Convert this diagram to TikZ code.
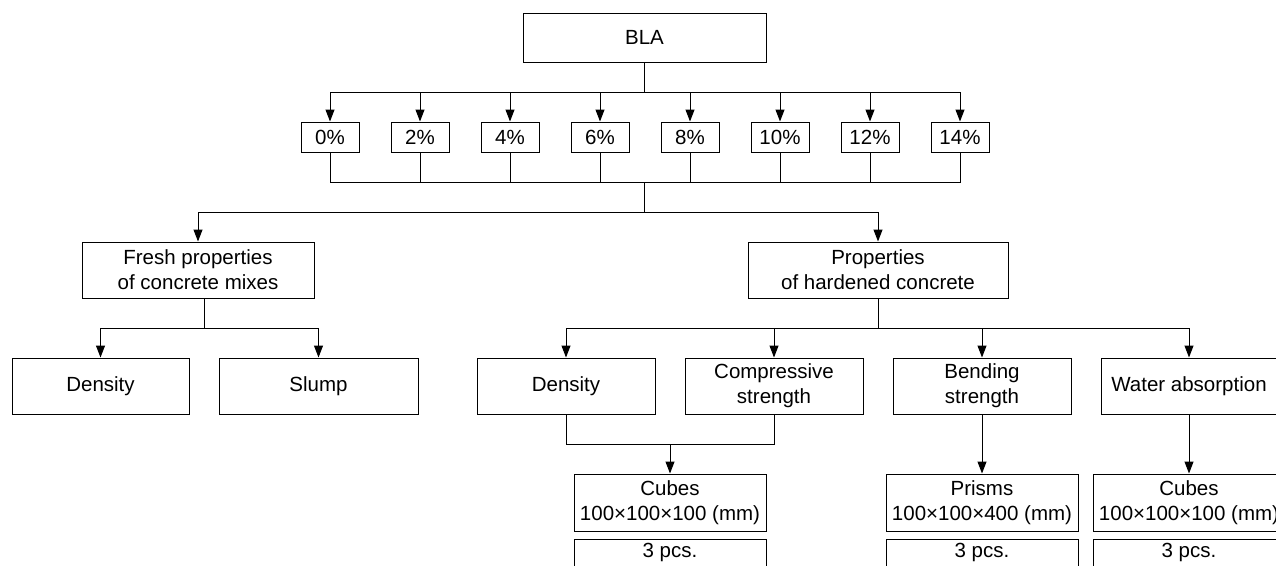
\documentclass[tikz,border=0pt]{standalone}
\usepackage{fontspec}
\setmainfont{Liberation Sans}
\usetikzlibrary{arrows.meta}

\begin{document}
\begin{tikzpicture}[x=1pt, y=-1pt, line width=1pt,
    box/.style={draw, rectangle, inner sep=2pt, align=center, font=\fontsize{20.5}{25}\selectfont},
    arr/.style={-{Triangle[length=12pt, width=9pt]}}]
    % page frame
    \useasboundingbox (0, 0) rectangle (1276, 565);
    \clip (0, 0) rectangle (1276, 565);

    % draw top box and percentages
    \node[box, minimum width=243, minimum height=49] (bla) at (644.5, 37.5) {BLA};
    \foreach \i/\p in {0/0, 1/2, 2/4, 3/6, 4/8, 5/10, 6/12, 7/14}
        \node[box, minimum width=58, minimum height=30] (p\i) at (330+90*\i, 137) {\p\%};

    \coordinate (split1) at (644.5, 92);
    \coordinate (join1) at (644.5, 182);
    \coordinate (split2) at (644.5, 212);
    \draw (bla.south) -- (split1);
    \foreach \i in {0,...,7} {
        \draw[arr] (split1) -| (p\i.north);
        \draw (p\i.south) |- (join1);
    }
    \draw (join1) -- (split2);

    % draw second level
    \node[box, minimum width=232, minimum height=56] (fresh) at (198, 270) {Fresh properties\\of concrete mixes};
    \node[box, minimum width=260, minimum height=56] (hard) at (878, 270) {Properties\\of hardened concrete};
    \draw[arr] (split2) -| (fresh.north);
    \draw[arr] (split2) -| (hard.north);

    % draw fresh properties
    \node[box, minimum width=177, minimum height=56] (fden) at (100.5, 386) {Density};
    \node[box, minimum width=199, minimum height=56] (slump) at (318.5, 386) {Slump};
    \coordinate (split3) at (204, 328);
    \draw (split3 |- fresh.south) -- (split3);
    \draw[arr] (split3) -| (fden.north);
    \draw[arr] (split3) -| (slump.north);

    % draw hardened properties
    \node[box, minimum width=178, minimum height=56] (hden) at (566, 386) {Density};
    \node[box, minimum width=178, minimum height=56] (comp) at (774, 386) {Compressive\\strength};
    \node[box, minimum width=178, minimum height=56] (bend) at (982, 386) {Bending\\strength};
    \node[box, minimum width=176, minimum height=56] (water) at (1189, 386) {Water absorption};
    \coordinate (split4) at (878, 328);
    \draw (hard.south) -- (split4);
    \foreach \n in {hden, comp, bend, water}
        \draw[arr] (split4) -| (\n.north);

    % draw specimens
    \node[box, minimum width=192, minimum height=57] (cube1) at (670, 502.5) {Cubes\\100×100×100 (mm)};
    \node[box, minimum width=192, minimum height=57] (prism) at (982, 502.5) {Prisms\\100×100×400 (mm)};
    \node[box, minimum width=192, minimum height=57] (cube2) at (1189, 502.5) {Cubes\\100×100×100 (mm)};
    \foreach \n/\x in {pcs1/670, pcs2/982, pcs3/1189}
        \node[box, anchor=north, minimum width=192, inner ysep=3pt, text height=15pt, text depth=36pt] (\n) at (\x, 539) {3 pcs.};

    \coordinate (join2) at (670, 444);
    \draw (hden.south) |- (join2);
    \draw (comp.south) |- (join2);
    \draw[arr] (join2) -- (cube1.north);
    \draw[arr] (bend.south) -- (prism.north);
    \draw[arr] (water.south) -- (cube2.north);
\end{tikzpicture}
\end{document}
